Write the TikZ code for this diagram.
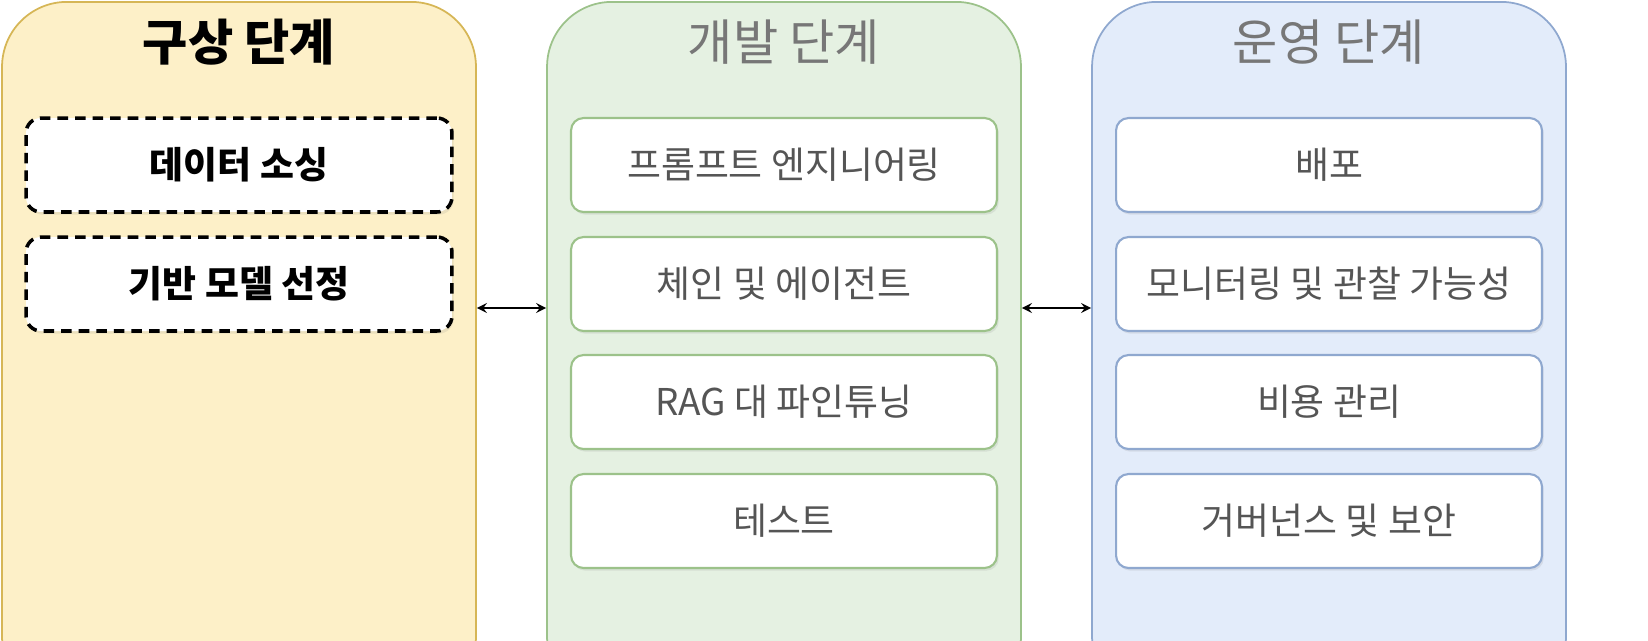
\documentclass[tikz,border=0pt]{standalone}
\usepackage{fontspec}
\setmainfont{Noto Sans CJK KR}
\usetikzlibrary{positioning,shadows}
\definecolor{ideaFill}{HTML}{FDF0C8}
\definecolor{ideaLine}{HTML}{D6B656}
\definecolor{devFill}{HTML}{E5F1E2}
\definecolor{devLine}{HTML}{9CC28A}
\definecolor{opsFill}{HTML}{E3ECFA}
\definecolor{opsLine}{HTML}{8FA8CF}
\definecolor{titleGray}{HTML}{777777}
\definecolor{textGray}{HTML}{555555}
\begin{document}
\begin{tikzpicture}[x=0.02cm,y=-0.02cm,
  panel/.style={draw=#1Line, fill=#1Fill, line width=1pt, rounded corners=1.3cm,
    minimum width=9.48cm, minimum height=14cm, anchor=north},
  title/.style={font=\fontsize{28}{32}\selectfont, text=titleGray},
  step/.style={draw=#1Line, fill=white, line width=1.2pt, rounded corners=0.25cm,
    minimum width=8.52cm, minimum height=1.88cm, text=textGray,
    font=\fontsize{21}{24}\selectfont, drop shadow={opacity=0.15, shadow xshift=1pt, shadow yshift=-1.5pt}},
  task/.style={draw=black, dash pattern=on 6pt off 4pt, fill=white, line width=2pt, rounded corners=0.3cm,
    minimum width=8.52cm, minimum height=1.88cm, font=\bfseries\fontsize{21}{24}\selectfont,
    drop shadow={opacity=0.15, shadow xshift=1pt, shadow yshift=-1.5pt}},
  link/.style={<->, >=stealth, line width=1.5pt}
]
\useasboundingbox (0,0) rectangle (1648,640);
\clip (0,0) rectangle (1648,640);

% phases
\node[panel=idea] (idea) at (239,1) {};
\node[panel=dev] (dev) at (784,1) {};
\node[panel=ops] (ops) at (1329,1) {};

\node[title, text=black, font=\bfseries\fontsize{28}{32}\selectfont] (ideaT) at (239,42) {구상 단계};
\node[title] (devT) at (784,42) {개발 단계};
\node[title] (opsT) at (1329,42) {운영 단계};

% ideation tasks
\node[task] (source) at (239,165) {데이터 소싱};
\node[task] (model) at (239,284) {기반 모델 선정};

% development steps
\node[step=dev] (prompt) at (784,165) {프롬프트 엔지니어링};
\node[step=dev] (chain) at (784,284) {체인 및 에이전트};
\node[step=dev] (rag) at (784,402) {RAG 대 파인튜닝};
\node[step=dev] (test) at (784,521) {테스트};

% operation steps
\node[step=ops] (deploy) at (1329,165) {배포};
\node[step=ops] (monitor) at (1329,284) {모니터링 및 관찰 가능성};
\node[step=ops] (cost) at (1329,402) {비용 관리};
\node[step=ops] (govern) at (1329,521) {거버넌스 및 보안};

% links
\coordinate (mid) at (0,308);
\draw[link] (idea.east |- mid) -- (dev.west |- mid);
\draw[link] (dev.east |- mid) -- (ops.west |- mid);
\end{tikzpicture}
\end{document}
